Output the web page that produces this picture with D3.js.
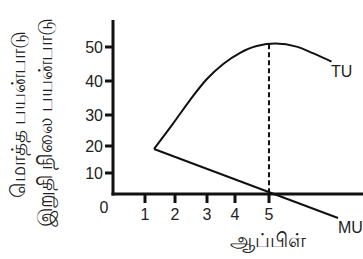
<!DOCTYPE html>
<html>
<head>
    <meta charset="utf-8">
    <script src="https://d3js.org/d3.v7.min.js"></script>
    <style>
        body { margin: 0; background: #fff; }
        .axis-line { stroke: #111; stroke-width: 3; fill: none; }
        .tick-mark { stroke: #111; stroke-width: 3; }
        .curve { fill: none; stroke: #111; stroke-width: 2; }
        .guide { stroke: #111; stroke-width: 2; stroke-dasharray: 5,3; }
        .lbl { font-family: "Liberation Sans", Arial, sans-serif; font-size: 16px; fill: #222; }
        .tamil { font-size: 20px; fill: #222; }
    </style>
</head>
<body>
<svg width="363" height="259"></svg>
<script>
    // values
    const xTicks = [1, 2, 3, 4, 5];
    const yTicks = [10, 20, 30, 40, 50];
    const tuPoints = [
        [1.30, 18.9], [1.94, 27.3], [2.47, 34.4], [2.99, 40.5], [3.58, 45.0],
        [4.15, 48.3], [4.64, 50.3], [5.20, 51.0], [5.81, 50.1],
        [6.29, 48.2], [6.84, 45.7]
    ];
    const muPoints = [[1.30, 18.9], [7.03, -11.4]];
    const peakX = 5, peakY = 50.8;
    const yTitle1 = "மொத்த பயன்பாடு";
    const yTitle2 = "இறுதி நிலை பயன்பாடு";
    const xTitle = "ஆப்பிள்";

    const svg = d3.select("svg");

    // hand drawn original: tick spacing is uneven, so piecewise scales
    const x = d3.scaleLinear().domain([0, 1, 2, 3, 4, 5]).range([113, 145, 175, 207, 235, 269]);
    const y = d3.scaleLinear().domain([0, 10, 20, 30, 40, 50]).range([194, 173, 146, 115, 81, 47]);

    // axes
    svg.append("line").attr("class", "axis-line")
        .attr("x1", x(0)).attr("x2", x(0)).attr("y1", 20).attr("y2", y(0) + 1.5);
    svg.append("line").attr("class", "axis-line")
        .attr("x1", x(0) - 1.5).attr("x2", 363).attr("y1", y(0)).attr("y2", y(0));

    svg.selectAll(".ytick").data(yTicks).enter().append("line")
        .attr("class", "tick-mark")
        .attr("x1", x(0) - 8).attr("x2", x(0)).attr("y1", d => y(d)).attr("y2", d => y(d));
    svg.selectAll(".ylab").data(yTicks).enter().append("text")
        .attr("class", "lbl").attr("text-anchor", "end")
        .attr("x", x(0) - 10).attr("y", d => y(d) + 6).text(d => d);

    svg.selectAll(".xtick").data(xTicks).enter().append("line")
        .attr("class", "tick-mark")
        .attr("x1", d => x(d)).attr("x2", d => x(d)).attr("y1", y(0)).attr("y2", y(0) + 9);
    svg.selectAll(".xlab").data(xTicks).enter().append("text")
        .attr("class", "lbl").attr("text-anchor", "middle")
        .attr("x", d => x(d)).attr("y", y(0) + 26).text(d => d);

    svg.append("text").attr("class", "lbl").attr("text-anchor", "middle")
        .attr("x", x(0) - 9).attr("y", y(0) + 19).text("0");

    // dashed guide at the TU peak
    svg.append("line").attr("class", "guide")
        .attr("x1", x(peakX)).attr("x2", x(peakX)).attr("y1", y(peakY)).attr("y2", y(0));

    const line = d3.line().x(d => x(d[0])).y(d => y(d[1]));
    svg.append("path").attr("class", "curve")
        .attr("d", line.curve(d3.curveMonotoneX)(tuPoints));
    svg.append("path").attr("class", "curve")
        .attr("d", d3.line().x(d => x(d[0])).y(d => y(d[1]))(muPoints));

    svg.append("text").attr("class", "lbl").attr("x", 331).attr("y", 77).text("TU");
    svg.append("text").attr("class", "lbl").attr("x", 338).attr("y", 233).text("MU");

    svg.append("text").attr("class", "tamil").attr("text-anchor", "middle")
        .attr("x", 268).attr("y", 247).text(xTitle);

    svg.append("text").attr("class", "tamil").attr("text-anchor", "middle")
        .attr("transform", "translate(25,114) rotate(-90)").text(yTitle1);
    svg.append("text").attr("class", "tamil").attr("text-anchor", "middle")
        .attr("transform", "translate(52,122) rotate(-90)").text(yTitle2);
</script>
</body>
</html>
